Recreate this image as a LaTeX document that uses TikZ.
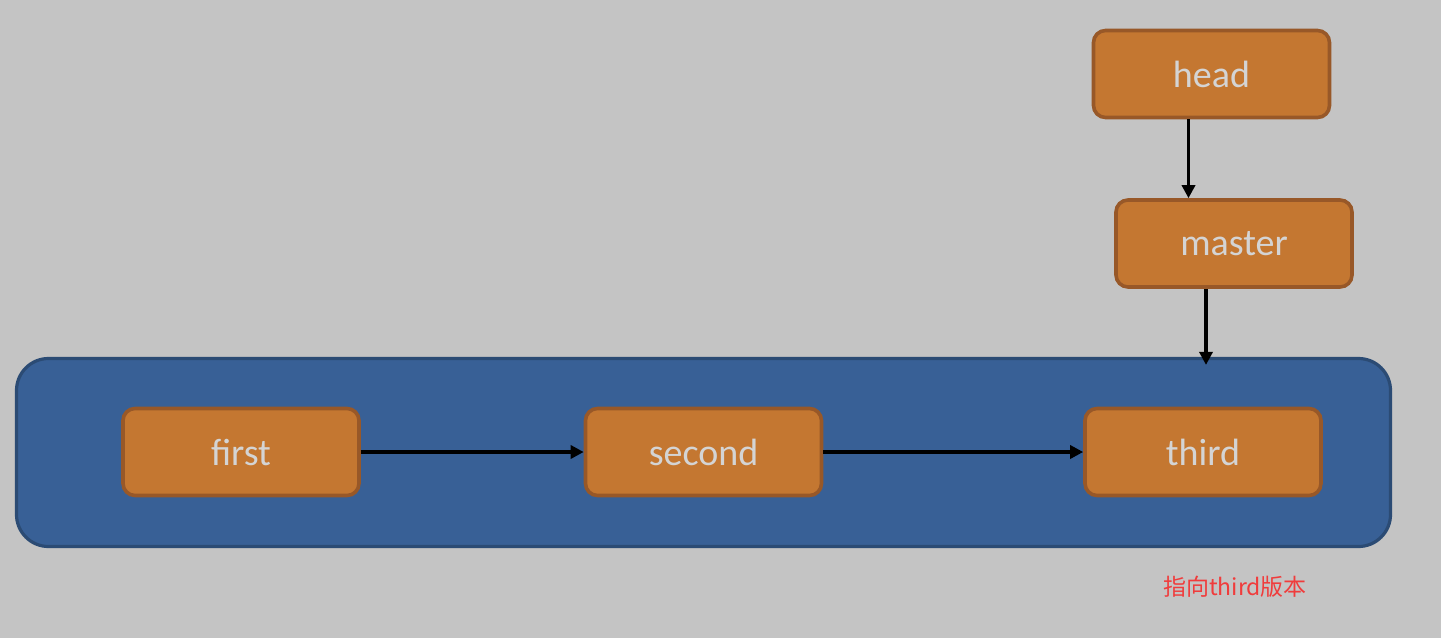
\documentclass[tikz,border=0pt]{standalone}
\usepackage{fontspec}
\setmainfont{Carlito}
\newfontfamily\cjk{Noto Sans CJK SC}
\usetikzlibrary{arrows.meta,positioning}

\definecolor{bgrey}{HTML}{C4C4C4}
\definecolor{panelblue}{HTML}{386096}
\definecolor{paneledge}{HTML}{2B4B74}
\definecolor{boxorange}{HTML}{C47731}
\definecolor{boxedge}{HTML}{985828}
\definecolor{boxtext}{HTML}{D4D4D4}
\definecolor{notered}{HTML}{F03C3C}

\begin{document}
\begin{tikzpicture}[x=0.5pt,y=-0.5pt]
      \tikzstyle{commit}=[rectangle, rounded corners=6pt, draw=boxedge, line width=1.8pt,
        fill=boxorange, text=boxtext, font=\fontsize{19}{22}\selectfont,
        minimum width=118pt, minimum height=43.5pt, inner sep=0pt]
      \tikzstyle{link}=[-{Triangle[length=6.5pt,width=6.5pt]}, line width=1.9pt]
      \fill[bgrey] (0,0) rectangle (1441,638);
      \useasboundingbox (0,0) rectangle (1441,638);
      % branch box
      \node[rectangle, rounded corners=16pt, draw=paneledge, line width=1.6pt, fill=panelblue,
        minimum width=687pt, minimum height=94pt] (panel) at (703.5,452.5) {};
      \node[commit] (first) at (241,452) {first};
      \node[commit] (second) at (703.5,452) {second};
      \node[commit] (third) at (1203,452) {third};
      \node[commit] (head) at (1211.5,74) {head};
      \node[commit] (master) at (1234,243.5) {master};
      \node[text=notered, font=\cjk\fontsize{11.5}{14}\selectfont] (note) at (1235,587) {指向third版本};
      \draw[link] (first) -- (second);
      \draw[link] (second) -- (third);
      \draw[link] ([xshift=-11.5pt]head.south) -- ([xshift=-11.5pt]head.south |- master.north);
      \draw[link, shorten >=-4pt] ([xshift=-14pt]master.south) -- ([xshift=-14pt]master.south |- panel.north);
    \end{tikzpicture}
\end{document}
